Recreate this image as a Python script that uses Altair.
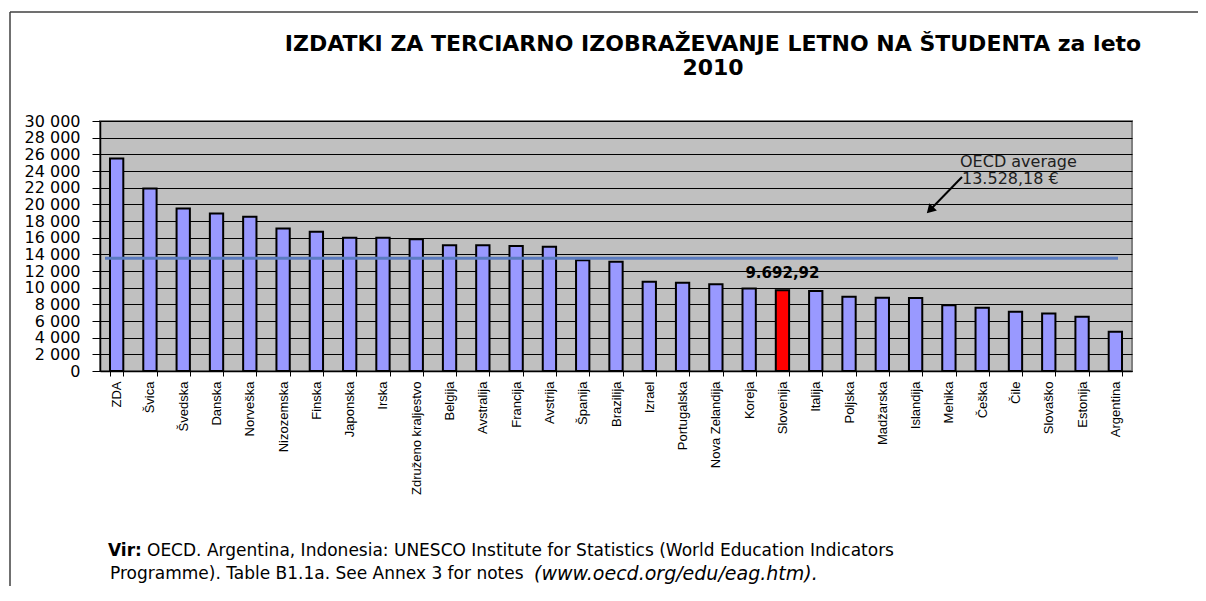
import altair as alt
import pandas as pd

countries = ["ZDA", "Švica", "Švedska", "Danska", "Norveška", "Nizozemska", "Finska",
             "Japonska", "Irska", "Združeno kraljestvo", "Belgija", "Avstralija", "Francija",
             "Avstrija", "Španija", "Brazilija", "Izrael", "Portugalska", "Nova Zelandija",
             "Koreja", "Slovenija", "Italija", "Poljska", "Madžarska", "Islandija", "Mehika",
             "Češka", "Čile", "Slovaško", "Estonija", "Argentina"]
values = [25500, 21900, 19500, 18900, 18500, 17100, 16700, 16000, 16000, 15800, 15100,
          15100, 15000, 14900, 13300, 13100, 10700, 10600, 10400, 9900, 9692.92, 9600,
          8900, 8800, 8750, 7900, 7600, 7100, 6900, 6500, 4700]
highlight = "Slovenija"
highlight_label = "9.692,92"
oecd_avg = 13528.18
oecd_line1 = "OECD average"
oecd_line2 = "13.528,18 €"
y_ticks = list(range(0, 30001, 2000))
title_line1 = "IZDATKI ZA TERCIARNO IZOBRAŽEVANJE  LETNO NA ŠTUDENTA za leto"
title_line2 = "2010"
footer_bold = "Vir:"
footer_line1 = "OECD. Argentina, Indonesia: UNESCO  Institute  for Statistics (World Education Indicators"
footer_line2 = "Programme). Table B1.1a. See Annex 3 for notes"
footer_url = "(www.oecd.org/edu/eag.htm)."

df = pd.DataFrame({"country": countries, "value": values})
df["hl"] = df["country"] == highlight
one = pd.DataFrame({"k": [0]})

W, H = 1032, 250

x_scale = alt.Scale(paddingInner=0.6, paddingOuter=0.3)
x_axis = alt.Axis(labelAngle=270, labelAlign="right", labelBaseline="middle",
                  labelFont="Liberation Sans", labelFontSize=13, labelColor="black",
                  labelPadding=5, tickBand="extent", tickSize=5, tickColor="black",
                  domainColor="black", domainWidth=1.5, labelLimit=300,
                  labelOverlap=False)
y_scale = alt.Scale(domain=[0, 30000], nice=False)
y_axis = alt.Axis(values=y_ticks, grid=True, gridColor="black", gridWidth=1,
                  gridOpacity=1, tickColor="black", tickSize=8, labelPadding=12,
                  domainColor="black", domainWidth=1.5, labelOverlap=False,
                  labelFont="DejaVu Sans", labelFontSize=16, labelColor="black",
                  labelExpr="replace(format(datum.value, ','), ',', ' ')")

x_enc = alt.X("country:N", sort=None, title=None, scale=x_scale, axis=x_axis)
y_enc = alt.Y("value:Q", title=None, scale=y_scale, axis=y_axis)

bars = alt.Chart(df).mark_bar(stroke="black", strokeWidth=2).encode(
    x=x_enc, y=y_enc,
    color=alt.condition("datum.hl", alt.value("#FF0000"), alt.value("#9999FF")),
)

avg = alt.Chart(one).mark_rule(color="#5B7CC0", strokeWidth=3).encode(
    y=alt.Y(datum=oecd_avg, title=None, scale=y_scale, axis=y_axis),
    x=alt.value(5), x2=alt.value(1018))

hl_text = alt.Chart(df[df["hl"]]).mark_text(
    font="DejaVu Sans", fontSize=15, fontWeight="bold", dy=-17, color="black"
).encode(x=x_enc, y=y_enc, text=alt.value(highlight_label))

def txt(text, x, y, size, align="left", weight="normal", style="normal", color="black"):
    return alt.Chart(one).mark_text(font="DejaVu Sans", fontSize=size, fontWeight=weight,
                                    fontStyle=style, align=align, baseline="middle",
                                    color=color).encode(
        x=alt.value(x), y=alt.value(y), text=alt.value(text))

oecd1 = txt(oecd_line1, 860, 41, 16, color="#202020")
oecd2 = txt(oecd_line2, 862, 58, 16, color="#202020")

arrow_line = alt.Chart(one).mark_rule(color="black", strokeWidth=2).encode(
    x=alt.value(862), y=alt.value(56), x2=alt.value(830), y2=alt.value(89))
arrow_head = alt.Chart(one).mark_point(shape="triangle", filled=True, color="black",
                                       size=110, angle=224, opacity=1).encode(
    x=alt.value(831), y=alt.value(88))

title1 = txt(title_line1, 613, -77, 22, align="center", weight="bold")
title2 = txt(title_line2, 613, -53, 22, align="center", weight="bold")

fb = txt(footer_bold, 8, 430, 17, weight="bold")
f1 = txt(footer_line1, 47, 430, 17)
f2 = txt(footer_line2, 10, 453, 17)
f3 = txt(footer_url, 434, 453, 19, style="italic")

frame_top = alt.Chart(one).mark_rule(color="#404040", strokeWidth=1.5).encode(
    x=alt.value(-90), x2=alt.value(1130), y=alt.value(-109))
frame_left = alt.Chart(one).mark_rule(color="#404040", strokeWidth=1.5).encode(
    x=alt.value(-90), y=alt.value(-109), y2=alt.value(480))

chart = alt.layer(
    bars, avg, hl_text, oecd1, oecd2, arrow_line, arrow_head, title1, title2,
    fb, f1, f2, f3, frame_top, frame_left
).properties(
    width=W, height=H,
    padding={"left": 92, "top": 113, "right": 66, "bottom": 215},
    autosize=alt.AutoSizeParams(type="none"),
).configure_view(fill="#C0C0C0", stroke="#808080", strokeWidth=2)

chart.save("out.html", embed_options={"renderer": "svg", "actions": False})
